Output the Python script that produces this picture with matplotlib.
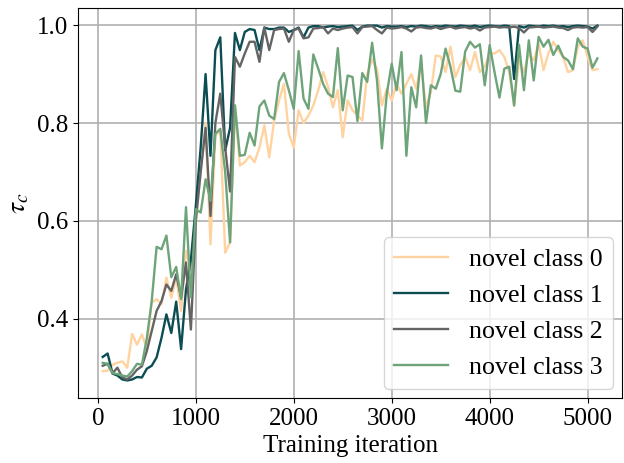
import numpy as np
from matplotlib import pyplot as plt

plt.rcParams['font.family'] = ['Liberation Serif', 'DejaVu Serif']
plt.rcParams['mathtext.fontset'] = 'stix'
plt.rcParams['font.size'] = 18

# Iteracoes de treino (a cada 50)
iters = np.arange(50, 5101, 50)

# novel class 0
c0 = [0.293, 0.294, 0.306, 0.31, 0.313, 0.30, 0.369, 0.347, 0.368, 0.34,
      0.433, 0.44, 0.43, 0.484, 0.443, 0.484, 0.416, 0.539, 0.50, 0.60,
      0.70, 0.80, 0.552, 0.774, 0.785, 0.535, 0.556, 0.836, 0.713, 0.72,
      0.733, 0.72, 0.75, 0.795, 0.73, 0.805, 0.846, 0.88, 0.778, 0.75,
      0.826, 0.80, 0.815, 0.836, 0.867, 0.904, 0.874, 0.832, 0.867, 0.771,
      0.846, 0.826, 0.816, 0.805, 0.90, 0.93, 0.91, 0.836, 0.87, 0.846,
      0.88, 0.86, 0.88, 0.90, 0.87, 0.92, 0.832, 0.863, 0.938, 0.936,
      0.904, 0.956, 0.894, 0.918, 0.935, 0.908, 0.945, 0.904, 0.915, 0.942,
      0.942, 0.949, 0.935, 0.904, 0.835, 0.928, 0.904, 0.942, 0.928, 0.962,
      0.908, 0.942, 0.966, 0.949, 0.935, 0.904, 0.908, 0.956, 0.969, 0.935,
      0.908, 0.91]

# novel class 1
c1 = [0.322, 0.329, 0.288, 0.284, 0.276, 0.274, 0.276, 0.281, 0.28, 0.298,
      0.304, 0.321, 0.361, 0.409, 0.371, 0.435, 0.338, 0.46, 0.52, 0.63,
      0.75, 0.90, 0.733, 0.949, 0.975, 0.744, 0.79, 0.984, 0.949, 0.986,
      0.992, 0.99, 0.949, 0.995, 0.992, 0.992, 0.995, 0.995, 0.986, 0.99,
      0.995, 0.975, 0.995, 0.998, 0.998, 0.995, 0.997, 0.998, 0.996, 0.997,
      0.998, 0.999, 0.99, 0.997, 0.999, 0.999, 0.999, 0.995, 0.998, 0.997,
      0.997, 0.998, 0.996, 0.998, 0.997, 0.999, 0.998, 0.996, 0.998, 0.997,
      0.999, 0.998, 0.997, 0.999, 0.998, 0.997, 0.999, 0.996, 0.998, 0.999,
      0.998, 0.997, 0.999, 0.998, 0.89, 0.998, 0.995, 0.999, 0.998, 0.997,
      0.999, 0.998, 0.999, 0.997, 0.998, 0.996, 0.998, 0.999, 0.998, 0.997,
      0.993, 0.999]

# novel class 2
c2 = [0.304, 0.308, 0.289, 0.30, 0.28, 0.276, 0.284, 0.296, 0.303, 0.334,
      0.375, 0.416, 0.436, 0.47, 0.457, 0.491, 0.443, 0.515, 0.378, 0.60,
      0.70, 0.79, 0.61, 0.80, 0.86, 0.75, 0.66, 0.935, 0.915, 0.942,
      0.966, 0.966, 0.925, 0.995, 0.949, 0.99, 0.992, 0.993, 0.966, 0.99,
      0.993, 0.973, 0.975, 0.993, 0.994, 0.996, 0.983, 0.993, 0.99, 0.993,
      0.995, 0.996, 0.983, 0.996, 0.997, 0.998, 0.99, 0.983, 0.995, 0.993,
      0.994, 0.996, 0.993, 0.987, 0.995, 0.996, 0.994, 0.993, 0.996, 0.992,
      0.995, 0.997, 0.993, 0.995, 0.996, 0.993, 0.995, 0.989, 0.995, 0.996,
      0.997, 0.995, 0.996, 0.995, 0.997, 0.994, 0.985, 0.995, 0.996, 0.997,
      0.995, 0.996, 0.997, 0.995, 0.994, 0.99, 0.995, 0.996, 0.995, 0.996,
      0.986, 0.997]

# novel class 3
c3 = [0.31, 0.308, 0.289, 0.287, 0.284, 0.282, 0.293, 0.308, 0.306, 0.36,
      0.436, 0.547, 0.542, 0.57, 0.485, 0.506, 0.44, 0.628, 0.444, 0.624,
      0.617, 0.685, 0.641, 0.778, 0.788, 0.70, 0.556, 0.836, 0.733, 0.735,
      0.78, 0.754, 0.834, 0.846, 0.815, 0.808, 0.884, 0.902, 0.867, 0.829,
      0.947, 0.85, 0.829, 0.94, 0.911, 0.88, 0.86, 0.853, 0.953, 0.826,
      0.897, 0.894, 0.804, 0.902, 0.884, 0.964, 0.887, 0.748, 0.86, 0.921,
      0.867, 0.945, 0.733, 0.873, 0.832, 0.938, 0.80, 0.877, 0.87, 0.90,
      0.952, 0.915, 0.866, 0.864, 0.946, 0.966, 0.954, 0.961, 0.877, 0.959,
      0.904, 0.852, 0.911, 0.915, 0.836, 0.96, 0.867, 0.969, 0.887, 0.976,
      0.956, 0.97, 0.939, 0.958, 0.935, 0.928, 0.91, 0.973, 0.956, 0.952,
      0.913, 0.932]

nomes = ['novel class 0', 'novel class 1', 'novel class 2', 'novel class 3']
cores = ['#ffd3a0', '#0b4d53', '#646464', '#6ea47a']

fig, ax = plt.subplots(figsize=(6.24, 4.63), dpi=100)
for serie, nome, cor in zip([c0, c1, c2, c3], nomes, cores):
    ax.plot(iters, serie, color=cor, lw=1.7, label=nome)

ax.grid(True, color='#b0b0b0', lw=1.2)
ax.set_axisbelow(True)
ax.set_xticks([0, 1000, 2000, 3000, 4000, 5000])
ax.set_yticks([0.4, 0.6, 0.8, 1.0])
ax.set_xlabel('Training iteration')
ax.set_ylabel(r'$\tau_c$', fontsize=20)
ax.legend(loc='lower right', fontsize=18.6, handlelength=2.1, borderaxespad=0.35)

plt.subplots_adjust(left=0.125, right=0.997, top=0.983, bottom=0.14)
plt.savefig('out.png')
